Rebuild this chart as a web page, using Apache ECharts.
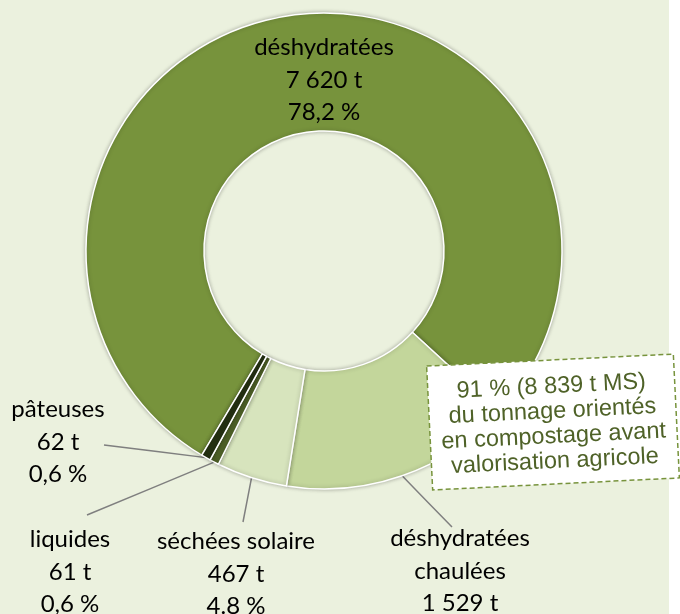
<!DOCTYPE html>
<html>
<head>
<meta charset="utf-8">
<script src="https://cdn.jsdelivr.net/npm/echarts@6/dist/echarts.min.js"></script>
<style>
  html, body { margin: 0; padding: 0; }
  body { background: linear-gradient(to right, #EBF1DE 669px, #FFFFFF 669px); }
  #chart { width: 680px; height: 614px; }
</style>
</head>
<body>
<div id="chart"></div>
<script>
// Sludge categories, in clockwise order around the ring
const categories = ['déshydratées', 'déshydratées\nchaulées', 'séchées solaire', 'liquides', 'pâteuses'];
// Tonnage per category (t MS)
const tonnages = [7620, 1529, 467, 61, 62];
// Share of the total as printed on each label
const percentLabels = ['78,2 %', '15,7 %', '4.8 %', '0,6 %', '0,6 %'];
const showPercent = [true, false, true, true, true];
// Call-out text
const noteLines = ['91 % (8 839 t MS)', 'du tonnage orientés', 'en compostage avant', 'valorisation agricole'];

// Styling / layout
const sliceColors = ['#77933C', '#C3D69B', '#D7E4BD', '#4F6228', '#243012'];
const labelCenters = [[324, 80], [460, 571], [236, 574], [70, 572], [58, 442]];
// where each leader line meets its label, relative to the label centre
const leaderEndOffsets = [null, [-8, -44], [7, -52], [17, -57], [46, 3]];

function fmtTonnes(v) {
  return String(v).replace(/\B(?=(\d{3})+(?!\d))/g, ' ') + ' t';
}

const pieData = categories.map((name, i) => ({
  name: name,
  value: tonnages[i],
  itemStyle: { color: sliceColors[i] },
  labelLine: { show: i !== 0 }
}));

const chart = echarts.init(document.getElementById('chart'), null, { renderer: 'canvas' });

chart.setOption({
  backgroundColor: 'transparent',
  animation: false,
  series: [{
    type: 'pie',
    center: [324, 251],
    radius: [120, 238],
    startAngle: -120.9,
    clockwise: true,
    avoidLabelOverlap: false,
    data: pieData,
    itemStyle: {
      borderColor: '#FFFFFF',
      borderWidth: 1.5,
      shadowBlur: 4,
      shadowColor: 'rgba(0,0,0,0.28)'
    },
    emphasis: { disabled: true },
    label: {
      show: true,
      position: 'outside',
      color: '#000000',
      fontFamily: 'Lato',
      fontSize: 24,
      lineHeight: 32.5,
      align: 'center',
      formatter: function (p) {
        const i = p.dataIndex;
        let s = p.name + '\n' + fmtTonnes(p.value);
        if (showPercent[i]) s += '\n' + percentLabels[i];
        return s;
      }
    },
    labelLine: {
      show: true,
      length: 10,
      length2: 0,
      lineStyle: { color: '#7F7F7F', width: 1.5 }
    },
    labelLayout: function (params) {
      const i = params.dataIndex;
      const c = labelCenters[i];
      const out = { x: c[0], y: c[1], align: 'center', verticalAlign: 'middle', hideOverlap: false };
      const off = leaderEndOffsets[i];
      const pts = params.labelLinePoints;
      if (off && pts && pts.length) {
        const start = pts[0];
        const end = [c[0] + off[0], c[1] + off[1]];
        const mid = [(start[0] + end[0]) / 2, (start[1] + end[1]) / 2];
        out.labelLinePoints = [start, mid, end];
      }
      return out;
    }
  }],
  graphic: [{
    type: 'group',
    x: 553,
    y: 422,
    rotation: 2.8 * Math.PI / 180,
    zlevel: 1,
    z: 100,
    children: [{
      type: 'rect',
      z: 100,
      zlevel: 1,
      shape: { x: -123.5, y: -62, width: 247, height: 124 },
      style: { fill: '#FFFFFF', stroke: '#77933C', lineWidth: 1.5, lineDash: [5, 3] }
    }, {
      type: 'text',
      z: 101,
      zlevel: 1,
      style: {
        text: noteLines.join('\n'),
        x: 0,
        y: 2,
        align: 'center',
        verticalAlign: 'middle',
        font: '23.5px "Liberation Sans", Arial, sans-serif',
        lineHeight: 25,
        fill: '#4F6228'
      }
    }]
  }]
});
</script>
</body>
</html>
